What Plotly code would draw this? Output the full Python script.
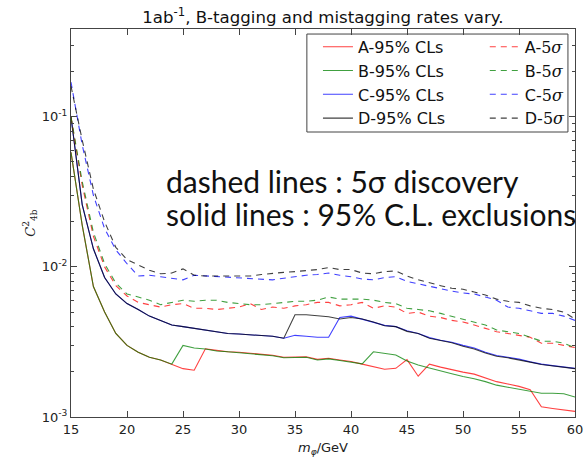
import plotly.graph_objects as go

mass = list(range(15, 61))

A_95 = [0.058, 0.019, 0.0074, 0.0050, 0.0036, 0.0030, 0.0027, 0.0025, 0.0024, 0.00225,
        0.0021, 0.00205, 0.00285, 0.00278, 0.00272, 0.00270, 0.00265, 0.00262, 0.00258, 0.00250,
        0.00252, 0.00252, 0.00242, 0.00246, 0.00240, 0.00234, 0.00225, 0.00216, 0.00208, 0.00211,
        0.00241, 0.00187, 0.00225, 0.00215, 0.00206, 0.00199, 0.00193, 0.00182, 0.00172, 0.00166,
        0.00160, 0.00152, 0.00117, 0.00114, 0.00112, 0.00109]
B_95 = [0.058, 0.019, 0.0074, 0.0050, 0.0036, 0.0030, 0.0027, 0.0025, 0.0024, 0.00225,
        0.0030, 0.00288, 0.00284, 0.00275, 0.00272, 0.00268, 0.00263, 0.00260, 0.00256, 0.00248,
        0.00250, 0.00250, 0.00240, 0.00244, 0.00238, 0.00233, 0.00226, 0.00272, 0.00265, 0.00259,
        0.00236, 0.00222, 0.00212, 0.00204, 0.00194, 0.00186, 0.00180, 0.00172, 0.00163, 0.00158,
        0.00153, 0.00148, 0.00144, 0.00144, 0.00143, 0.00136]
C_95 = [0.100, 0.026, 0.0132, 0.0085, 0.0066, 0.0057, 0.0052, 0.0047, 0.0044, 0.0041,
        0.0040, 0.0039, 0.0038, 0.0037, 0.0036, 0.00357, 0.00354, 0.0035, 0.00345, 0.00335,
        0.0035, 0.00345, 0.0034, 0.0034, 0.0046, 0.0047, 0.0045, 0.0043, 0.00408, 0.0040,
        0.00375, 0.0036, 0.00338, 0.00325, 0.00315, 0.00300, 0.00288, 0.00270, 0.00257, 0.00250,
        0.00243, 0.00233, 0.00225, 0.00220, 0.00216, 0.00211]
D_95 = [0.100, 0.026, 0.0132, 0.0085, 0.0066, 0.0057, 0.0052, 0.0047, 0.0044, 0.0041,
        0.0040, 0.0039, 0.0038, 0.0037, 0.0036, 0.00357, 0.00354, 0.0035, 0.00345, 0.00335,
        0.0048, 0.0048, 0.0047, 0.00465, 0.0045, 0.0046, 0.0045, 0.0043, 0.00405, 0.0040,
        0.00372, 0.0036, 0.00335, 0.00322, 0.00312, 0.00296, 0.00284, 0.00267, 0.00254, 0.00248,
        0.00241, 0.00232, 0.00224, 0.00219, 0.00215, 0.00210]
A_5s = [0.100, 0.035, 0.016, 0.010, 0.0075, 0.0064, 0.0058, 0.0056, 0.0054, 0.0056,
        0.0057, 0.0053, 0.0053, 0.0052, 0.0053, 0.0054, 0.0057, 0.0052, 0.0054, 0.0053,
        0.0055, 0.0056, 0.0058, 0.0058, 0.0055, 0.0056, 0.0058, 0.0053, 0.0055, 0.0054,
        0.0049, 0.0050, 0.0047, 0.0046, 0.0044, 0.0043, 0.0041, 0.0039, 0.0037, 0.0036,
        0.0035, 0.0034, 0.0031, 0.0031, 0.0030, 0.0029]
B_5s = [0.100, 0.037, 0.017, 0.0105, 0.0078, 0.0066, 0.0063, 0.0060, 0.0056, 0.0058,
        0.0060, 0.0059, 0.0060, 0.0060, 0.0058, 0.0057, 0.0056, 0.0056, 0.0057, 0.0058,
        0.0059, 0.0059, 0.0060, 0.0063, 0.0061, 0.0061, 0.0061, 0.0060, 0.0058, 0.0057,
        0.0053, 0.0052, 0.0051, 0.0049, 0.0047, 0.0045, 0.0043, 0.0041, 0.0038, 0.0037,
        0.0036, 0.0034, 0.0032, 0.0032, 0.0031, 0.0029]
C_5s = [0.170, 0.065, 0.030, 0.018, 0.0130, 0.0105, 0.0087, 0.0088, 0.0086, 0.0084,
        0.0082, 0.0088, 0.0087, 0.0086, 0.0085, 0.0085, 0.0084, 0.0083, 0.0082, 0.0084,
        0.0086, 0.0088, 0.0089, 0.0091, 0.0088, 0.0086, 0.0083, 0.0082, 0.0085, 0.0086,
        0.0080, 0.0077, 0.0074, 0.0071, 0.0069, 0.0067, 0.0066, 0.0063, 0.0060, 0.0054,
        0.0053, 0.0051, 0.0049, 0.0049, 0.0047, 0.0044]
D_5s = [0.160, 0.070, 0.033, 0.020, 0.0135, 0.0112, 0.0103, 0.0095, 0.0090, 0.0091,
        0.0097, 0.0088, 0.0087, 0.0087, 0.0086, 0.0087, 0.0087, 0.0089, 0.0091, 0.0092,
        0.0093, 0.0094, 0.0096, 0.0099, 0.0096, 0.0096, 0.0091, 0.0090, 0.0093, 0.0094,
        0.0087, 0.0082, 0.0078, 0.0075, 0.0072, 0.0071, 0.0068, 0.0065, 0.0061, 0.0059,
        0.0058, 0.0055, 0.0053, 0.0052, 0.0050, 0.0045]

labels = ["A", "B", "C", "D"]
colors = ["rgba(255,0,0,0.75)", "rgba(0,128,0,0.75)", "rgba(0,0,255,0.75)", "rgba(0,0,0,0.75)"]
solid_series = [A_95, B_95, C_95, D_95]
dashed_series = [A_5s, B_5s, C_5s, D_5s]

x_ticks = [15, 20, 25, 30, 35, 40, 45, 50, 55, 60]
y_ticks = [1e-3, 1e-2, 1e-1]
y_ticktext = ["10<sup>-3</sup>", "10<sup>-2</sup>", "10<sup>-1</sup>"]
y_minor = [k * 10.0 ** e for e in (-3, -2, -1) for k in range(2, 10)]

fig = go.Figure()
for lab, col, ys in zip(labels, colors, solid_series):
    fig.add_trace(go.Scatter(x=mass, y=ys, mode="lines", name=lab + "-95% CLs",
                             line=dict(color=col, width=1.1), legend="legend"))
for lab, col, ys in zip(labels, colors, dashed_series):
    fig.add_trace(go.Scatter(x=mass, y=ys, mode="lines",
                             name=lab + "-<span style=\"font-family:'DejaVu Serif'\">5<i>σ</i></span>",
                             line=dict(color=col, width=1.1, dash="6px,5px"), legend="legend2"))

axis_common = dict(showgrid=False, zeroline=False, showline=True, linecolor="#444", linewidth=1,
                   mirror="allticks", ticks="inside", ticklen=6, tickcolor="#444",
                   tickfont=dict(family="DejaVu Sans", size=13, color="#222"))

fig.update_xaxes(range=[15, 60], tickvals=x_ticks, automargin=False, **axis_common,
                 title=dict(text="<i>m</i><sub><i>φ</i></sub>/GeV",
                            font=dict(family="DejaVu Sans", size=13, color="#222"), standoff=14))
fig.update_yaxes(type="log", range=[-3, -0.415], tickvals=y_ticks, ticktext=y_ticktext,
                 automargin=False,
                 minor=dict(tickvals=y_minor, ticks="inside", ticklen=3, tickcolor="#444"),
                 **axis_common,
                 title=dict(text="<i>C</i><sup>2</sup><sub>4b</sub>",
                            font=dict(family="DejaVu Serif", size=13, color="#222"), standoff=3))

legend_common = dict(font=dict(family="DejaVu Sans", size=16, color="#111"),
                     bgcolor="rgba(0,0,0,0)", borderwidth=0, yanchor="top", xanchor="left",
                     tracegroupgap=0, itemwidth=30)

fig.update_layout(
    width=585, height=457,
    margin=dict(l=71, r=10, t=29, b=40, autoexpand=False),
    paper_bgcolor="white", plot_bgcolor="white",
    title=dict(text="1ab<sup>-1</sup>, B-tagging and mistagging rates vary.",
               font=dict(family="DejaVu Sans", size=16.6, color="#111"),
               x=0.552, xanchor="center", y=0.963, yanchor="middle"),
    legend=dict(x=0.490, y=0.998, **legend_common),
    legend2=dict(x=0.821, y=0.998, **legend_common),
    shapes=[dict(type="rect", xref="paper", yref="paper", x0=0.468, x1=0.986, y0=0.7345, y1=0.987,
                 line=dict(color="#444", width=1), fillcolor="white", layer="below")],
    annotations=[
        dict(text="dashed lines : 5σ discovery", xref="paper", yref="paper",
             x=(164 - 71) / 504, y=(417 - 181) / 388, xanchor="left", yanchor="middle",
             showarrow=False, font=dict(family="Lato", size=30, color="#111")),
        dict(text="solid lines : 95% C.L. exclusions", xref="paper", yref="paper",
             x=(164 - 71) / 504, y=(417 - 214) / 388, xanchor="left", yanchor="middle",
             showarrow=False, font=dict(family="Lato", size=30, color="#111")),
    ],
)

fig.write_html("out.html")
